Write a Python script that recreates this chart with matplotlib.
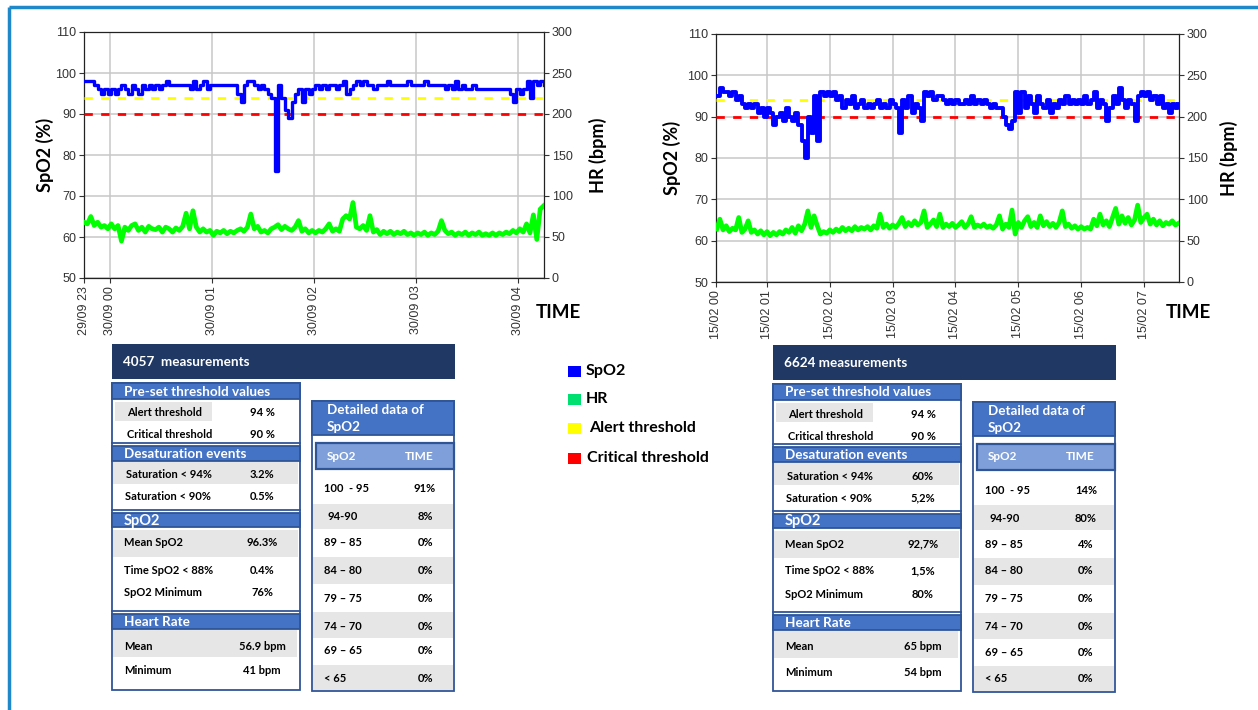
import numpy as np
import matplotlib
matplotlib.use('Agg')
import matplotlib.pyplot as plt
from matplotlib.patches import Rectangle

# ---------------- data ----------------
# Left recording (29/09 - 30/09): samples every 2 min starting 15 min before 00:00
left_start_min = -15
left_step_min = 2
spo2_left = [98, 98, 98, 97, 96, 95, 96, 95, 96, 95, 96, 97, 96, 95, 97, 96, 95, 97, 96, 97,
             96, 97, 96, 97, 98, 97, 97, 97, 97, 97, 97, 96, 98, 96, 97, 98, 96, 97, 97, 97,
             97, 97, 97, 97, 97, 95, 93, 97, 98, 98, 97, 96, 97, 96, 95, 94, 76, 97, 94, 91,
             89, 93, 95, 96, 93, 96, 95, 96, 97, 96, 97, 96, 97, 97, 96, 97, 98, 95, 96, 97,
             98, 97, 98, 97, 97, 96, 97, 97, 97, 98, 97, 97, 97, 97, 97, 98, 97, 97, 97, 97,
             98, 97, 97, 97, 97, 97, 96, 97, 96, 98, 96, 97, 96, 96, 97, 96, 96, 96, 96, 96,
             96, 96, 96, 96, 96, 95, 93, 96, 95, 96, 98, 94, 98, 97, 98, 97]
hr_left = [68, 66, 75, 64, 68, 62, 64, 60, 66, 60, 64, 45, 62, 58, 64, 66, 58, 62, 56, 63,
           60, 59, 62, 56, 62, 60, 56, 61, 58, 63, 79, 60, 82, 62, 56, 60, 56, 58, 52, 57,
           55, 58, 54, 57, 55, 58, 60, 57, 62, 78, 60, 63, 56, 58, 55, 60, 62, 65, 59, 63,
           60, 58, 62, 70, 57, 60, 55, 58, 55, 58, 56, 60, 66, 57, 60, 57, 72, 76, 72, 92,
           62, 60, 64, 58, 76, 56, 59, 53, 57, 54, 57, 53, 56, 54, 57, 53, 55, 52, 55, 53,
           56, 52, 55, 53, 57, 70, 58, 54, 56, 52, 55, 53, 56, 52, 55, 53, 56, 52, 54, 52,
           55, 52, 55, 53, 56, 54, 58, 55, 60, 56, 66, 55, 77, 47, 84, 88]

# Right recording (15/02): samples every 3 min starting 00:12
right_start_min = 12
right_step_min = 3
spo2_right = [95, 97, 96, 96, 95, 96, 94, 95, 93, 92, 93, 92, 93, 91, 92, 90, 92, 91, 88, 90,
              91, 89, 92, 90, 89, 91, 88, 84, 80, 90, 86, 95, 84, 96, 95, 96, 95, 96, 94, 95,
              92, 94, 93, 95, 92, 93, 94, 92, 93, 92, 93, 94, 92, 93, 92, 94, 93, 92, 86, 94,
              92, 95, 91, 93, 92, 89, 96, 95, 96, 94, 95, 95, 94, 93, 94, 93, 94, 93, 93, 94,
              93, 95, 93, 94, 93, 94, 93, 92, 93, 92, 92, 90, 88, 87, 89, 96, 91, 96, 92, 95,
              93, 91, 95, 93, 92, 94, 91, 93, 92, 94, 93, 95, 93, 94, 93, 94, 93, 95, 93, 94,
              96, 92, 94, 93, 89, 92, 95, 93, 97, 94, 92, 94, 93, 89, 95, 96, 95, 96, 94, 95,
              93, 95, 92, 93, 91, 93, 92, 93]
hr_right = [64, 76, 63, 68, 61, 65, 63, 78, 60, 64, 74, 60, 63, 58, 62, 57, 61, 56, 60, 57,
            61, 58, 63, 60, 66, 59, 68, 62, 70, 86, 66, 80, 68, 58, 61, 59, 63, 60, 64, 61,
            66, 62, 65, 62, 67, 63, 66, 64, 67, 63, 68, 65, 82, 66, 70, 65, 69, 66, 71, 78,
            67, 72, 68, 74, 69, 72, 86, 66, 70, 75, 67, 82, 66, 70, 67, 71, 66, 69, 73, 66,
            70, 79, 66, 69, 67, 70, 66, 68, 65, 69, 80, 64, 70, 66, 87, 58, 72, 66, 74, 79,
            67, 72, 66, 80, 68, 73, 67, 71, 66, 72, 86, 67, 70, 65, 68, 64, 67, 64, 66, 64,
            76, 68, 82, 69, 74, 67, 78, 89, 70, 80, 71, 78, 69, 75, 93, 72, 78, 82, 70, 76,
            69, 74, 68, 72, 70, 74, 69, 71]

alert_threshold = 94
critical_threshold = 90

left_xticks = [-0.25, 0, 1, 2, 3, 4]
left_xticklabels = ['29/09 23', '30/09 00', '30/09 01', '30/09 02', '30/09 03', '30/09 04']
left_xlim = (-0.25, 4.254)
right_xticks = [0.188, 1, 2, 3, 4, 5, 6, 7]
right_xticklabels = ['15/02 00', '15/02 01', '15/02 02', '15/02 03', '15/02 04', '15/02 05',
                     '15/02 06', '15/02 07']
right_xlim = (0.188, 7.558)

spo2_ticks = [50, 60, 70, 80, 90, 100, 110]
hr_ticks = [0, 50, 100, 150, 200, 250, 300]

# table texts
preset_labels = ['Alert threshold', 'Critical threshold']
desat_labels = ['Saturation < 94%', 'Saturation < 90%']
spo2_labels = ['Mean SpO2', 'Time SpO2 < 88%', 'SpO2 Minimum']
hr_labels = ['Mean', 'Minimum']
detail_ranges = ['100  - 95', '94-90', '89 – 85', '84 – 80', '79 – 75', '74 – 70', '69 – 65', '< 65']

left_count = '4057  measurements'
left_preset = ['94 %', '90 %']
left_desat = ['3.2%', '0.5%']
left_spo2 = ['96.3%', '0.4%', '76%']
left_hr = ['56.9 bpm', '41 bpm']
left_detail = ['91%', '8%', '0%', '0%', '0%', '0%', '0%', '0%']

right_count = '6624 measurements'
right_preset = ['94 %', '90 %']
right_desat = ['60%', '5,2%']
right_spo2 = ['92,7%', '1,5%', '80%']
right_hr = ['65 bpm', '54 bpm']
right_detail = ['14%', '80%', '4%', '0%', '0%', '0%', '0%', '0%']

legend_labels = ['SpO2', 'HR', 'Alert threshold', 'Critical threshold']
legend_colors = ['#0000ff', '#00e070', '#ffff00', '#ff0000']

# ---------------- styling ----------------
W, H = 1258, 710
BLUE = '#0000ff'
GREEN = '#00ff00'
YELLOW = '#ffff00'
RED = '#ff0000'
NAVY = '#1f3864'
MID = '#4472c4'
EDGE = '#2f5597'
GRAY = '#e7e6e6'
TFONT = 'Lato'

fig = plt.figure(figsize=(W / 100, H / 100), dpi=100)
fig.patch.set_facecolor('white')

ov = fig.add_axes([0, 0, 1, 1])
ov.set_xlim(0, W)
ov.set_ylim(H, 0)
ov.axis('off')


def px_axes(x0, y0, x1, y1):
    return fig.add_axes([x0 / W, 1 - y1 / H, (x1 - x0) / W, (y1 - y0) / H])


def draw_chart(box, start_min, step_min, spo2, hr, xticks, xticklabels, xlim,
               ylab_x, hrlab_x, time_xy, spo2_lw):
    ax = px_axes(*box)
    t_s = (start_min + step_min * np.arange(len(spo2))) / 60.0
    t_h = (start_min + step_min * np.arange(len(hr))) / 60.0
    ax.set_xlim(*xlim)
    ax.set_ylim(50, 110)
    ax.set_yticks(spo2_ticks)
    ax.set_xticks(xticks)
    ax.set_xticklabels(xticklabels, rotation=90, fontsize=9, family='Liberation Sans',
                       color='#333333')
    for lab in ax.get_yticklabels():
        lab.set_fontsize(9)
        lab.set_family('Liberation Sans')
        lab.set_color('#333333')
    ax.grid(True, color='#c8c8c8', lw=1.1)
    ax.set_axisbelow(True)
    ax.tick_params(direction='out', length=3.5, width=0.8, color='#333333', pad=2)
    for s in ax.spines.values():
        s.set_color('#222222')
        s.set_linewidth(0.9)
    ax.axhline(alert_threshold, color=YELLOW, lw=2.0, ls=(0, (3, 3)), zorder=3)
    ax.axhline(critical_threshold, color=RED, lw=2.0, ls=(0, (3, 3)), zorder=3)
    ax.plot(t_s, spo2, color=BLUE, lw=spo2_lw, drawstyle='steps-post', zorder=4)
    ax2 = ax.twinx()
    ax2.set_ylim(0, 300)
    ax2.set_yticks(hr_ticks)
    for lab in ax2.get_yticklabels():
        lab.set_fontsize(9)
        lab.set_family('Liberation Sans')
        lab.set_color('#333333')
    ax2.tick_params(direction='out', length=3.5, width=0.8, color='#333333', pad=2)
    for s in ax2.spines.values():
        s.set_visible(False)
    ax2.plot(t_h, hr, color=GREEN, lw=3.4, zorder=4, solid_joinstyle='round')
    cy = (box[1] + box[3]) / 2
    ov.text(ylab_x, cy, 'SpO2 (%)', rotation=90, ha='center', va='center',
            fontsize=13, fontweight='bold', family=TFONT)
    ov.text(hrlab_x, cy, 'HR (bpm)', rotation=90, ha='center', va='center',
            fontsize=13, fontweight='bold', family=TFONT)
    ov.text(time_xy[0], time_xy[1], 'TIME', ha='center', va='center',
            fontsize=13.5, fontweight='bold', family=TFONT)


draw_chart((84, 32, 544, 278), left_start_min, left_step_min, spo2_left, hr_left,
           left_xticks, left_xticklabels, left_xlim, 45, 598, (558, 312), 2.4)
draw_chart((716, 34, 1179, 282), right_start_min, right_step_min, spo2_right, hr_right,
           right_xticks, right_xticklabels, right_xlim, 672, 1229, (1188, 313), 2.8)

# ---------------- figure border ----------------
ov.plot([8.5, 8.5], [7, H], color='#1e88c8', lw=2.5, solid_capstyle='butt')
ov.plot([8.5, W], [7, 7], color='#1e88c8', lw=2.5, solid_capstyle='butt')


# ---------------- tables ----------------
def rect(x0, y0, x1, y1, fc, ec='none', lw=0.0, z=1):
    ov.add_patch(Rectangle((x0, y0), x1 - x0, y1 - y0, facecolor=fc, edgecolor=ec,
                           linewidth=lw, zorder=z))


def txt(x, y, s, size=8, color='black', ha='left', weight='bold'):
    ov.text(x, y, s, ha=ha, va='center', fontsize=size, color=color,
            fontweight=weight, family=TFONT, zorder=5)


def draw_tables(dx, dy, count, preset, desat, spo2v, hrv, detail):
    X = lambda v: v + dx
    Y = lambda v: v + dy
    # header
    rect(X(112), Y(344), X(455), Y(379), NAVY)
    txt(X(123), Y(362), count, size=9.7, color='white')
    # left panel
    rect(X(112), Y(383), X(300), Y(690), 'white', EDGE, 1.3)
    for (y0, y1, title) in [(383, 399, 'Pre-set threshold values'),
                            (446, 461, 'Desaturation events'),
                            (513, 527, 'SpO2'),
                            (614, 629, 'Heart Rate')]:
        rect(X(112), Y(y0), X(300), Y(y1), MID, EDGE, 1.3, z=2)
        txt(X(124), Y((y0 + y1) / 2 + 0.5), title, size=9.7 if title != 'SpO2' else 10.5,
            color='white')
    for yb in [443, 510, 611]:
        ov.plot([X(112), X(300)], [Y(yb), Y(yb)], color=EDGE, lw=1.3, zorder=3)
    rect(X(115), Y(402), X(212), Y(421), GRAY)
    rect(X(113), Y(462), X(298), Y(484), GRAY)
    rect(X(113), Y(530), X(298), Y(557), GRAY)
    rect(X(113), Y(630), X(297), Y(657), GRAY)
    vx = X(262)
    txt(X(127), Y(413), preset_labels[0]); txt(vx, Y(413), preset[0], ha='center')
    txt(X(127), Y(435), preset_labels[1]); txt(vx, Y(435), preset[1], ha='center')
    txt(X(126), Y(475), desat_labels[0]); txt(vx, Y(475), desat[0], ha='center')
    txt(X(125), Y(497), desat_labels[1]); txt(vx, Y(497), desat[1], ha='center')
    for lab, val, yy in zip(spo2_labels, spo2v, [543, 570, 593]):
        txt(X(124), Y(yy), lab); txt(vx, Y(yy), val, ha='center')
    for lab, val, yy in zip(hr_labels, hrv, [646, 671]):
        txt(X(124), Y(yy), lab); txt(vx, Y(yy), val, ha='center')
    # detailed panel
    rect(X(312), Y(401), X(454), Y(691), 'white', EDGE, 1.3)
    rect(X(312), Y(401), X(454), Y(435), MID, EDGE, 1.3, z=2)
    txt(X(327), Y(410), 'Detailed data of', size=9.7, color='white')
    txt(X(327), Y(427), 'SpO2', size=9.7, color='white')
    rect(X(316), Y(443), X(454), Y(469), '#7f9fda', EDGE, 1.6, z=2)
    txt(X(327), Y(456), 'SpO2', size=8.5, color='white')
    txt(X(419), Y(456), 'TIME', size=8.5, color='white', ha='center')
    rows_y = [489, 517, 543, 570, 598, 626, 651, 678]
    for (y0, y1) in [(504, 529), (557, 584), (612, 638), (665, 690)]:
        rect(X(313), Y(y0), X(453), Y(y1), GRAY)
    for i, (lab, val, yy) in enumerate(zip(detail_ranges, detail, rows_y)):
        txt(X(328 if i == 1 else 324), Y(yy), lab)
        txt(X(425), Y(yy), val, ha='center')


draw_tables(0, 0, left_count, left_preset, left_desat, left_spo2, left_hr, left_detail)
draw_tables(661, 1, right_count, right_preset, right_desat, right_spo2, right_hr, right_detail)

# ---------------- legend ----------------
for lab, col, yy, tx in zip(legend_labels, legend_colors, [371, 399, 428, 458],
                            [586, 586, 589, 587]):
    rect(568, yy - 5.5, 581, yy + 5.5, col)
    txt(tx, yy, lab, size=11.5)

fig.savefig('out.png', dpi=100)
